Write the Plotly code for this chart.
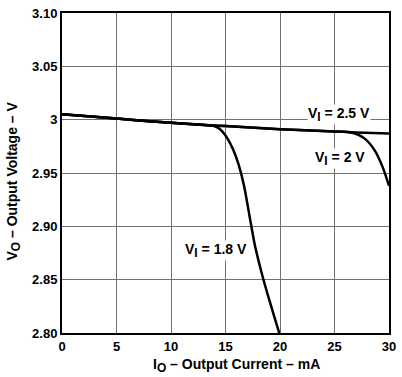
import plotly.graph_objects as go

# V_I = 2.5 V
x25 = [0, 5, 10, 13, 15, 20, 25, 27, 30]
y25 = [3.005, 3.001, 2.997, 2.995, 2.994, 2.991, 2.989, 2.988, 2.987]
# V_I = 2 V
x20 = [0, 5, 10, 13, 15, 20, 25, 26.2, 26.9, 27.8, 28.7, 29.4, 30]
y20 = [3.005, 3.001, 2.997, 2.995, 2.994, 2.991, 2.989, 2.9885, 2.987, 2.982, 2.971, 2.956, 2.938]
# V_I = 1.8 V
x18 = [0, 5, 10, 12.6, 13.6, 14.2, 14.7, 15.2, 15.7, 16.2, 16.7, 17.2, 17.7, 18.3, 18.9, 19.4, 19.93]
y18 = [3.005, 3.001, 2.997, 2.9954, 2.9947, 2.993, 2.989, 2.982, 2.972, 2.958, 2.938, 2.910, 2.882, 2.857, 2.835, 2.818, 2.800]

ytickvals = [2.80, 2.85, 2.90, 2.95, 3.00, 3.05, 3.10]
yticktext = ["2.80", "2.85", "2.90", "2.95", "3", "3.05", "3.10"]
xtickvals = [0, 5, 10, 15, 20, 25, 30]

SUB = "<sub><span style='font-size:12px'>%s</span></sub>"

labels = [("V" + SUB % "I" + " = 2.5 V", 25.4, 3.0045),
          ("V" + SUB % "I" + " = 2 V", 25.5, 2.9635),
          ("V" + SUB % "I" + " = 1.8 V", 14.1, 2.877)]

fig = go.Figure()
for xs, ys in [(x25, y25), (x20, y20), (x18, y18)]:
    fig.add_trace(go.Scatter(x=xs, y=ys, mode="lines",
                             line=dict(color="black", width=2.5, shape="spline", smoothing=0.8),
                             showlegend=False, hoverinfo="skip"))

for txt, xa, ya in labels:
    fig.add_annotation(x=xa, y=ya, text="<b>" + txt + "</b>", showarrow=False,
                       xanchor="center", yanchor="middle",
                       bgcolor="white", font=dict(size=14, color="black", family="Liberation Sans"),
                       borderpad=0)

# axis titles
fig.add_annotation(xref="paper", yref="paper", x=0.535, y=-0.101,
                   text="<b>I" + SUB % "O" + " – Output Current – mA</b>", showarrow=False,
                   xanchor="center", yanchor="middle",
                   font=dict(size=14, color="black", family="Liberation Sans"))
fig.add_annotation(xref="paper", yref="paper", x=-0.149, y=0.474, textangle=-90,
                   text="<b>V" + SUB % "O" + " – Output Voltage – V</b>", showarrow=False,
                   xanchor="center", yanchor="middle",
                   font=dict(size=14, color="black", family="Liberation Sans"))

fig.update_layout(
    width=402, height=377,
    margin=dict(l=62, r=11, t=6, b=44),
    plot_bgcolor="white", paper_bgcolor="white",
    font=dict(family="Liberation Sans", size=13, color="black"),
    xaxis=dict(range=[0, 30], tickvals=xtickvals, ticktext=["<b>%d</b>" % v for v in xtickvals],
               ticks="", ticklen=0, showgrid=True,
               gridcolor="#707070", gridwidth=1, showline=True, linecolor="black",
               linewidth=2, mirror=True, zeroline=False,
               tickfont=dict(size=13, family="Liberation Sans")),
    yaxis=dict(range=[2.80, 3.10], tickvals=ytickvals, ticktext=["<b>%s</b>" % t for t in yticktext],
               ticks="", ticklen=0, showgrid=True, gridcolor="#707070", gridwidth=1, showline=True,
               linecolor="black", linewidth=2, mirror=True, zeroline=False,
               tickfont=dict(size=13, family="Liberation Sans")),
)

fig.write_html("out.html", config={"displayModeBar": False},
               post_script="document.body.style.margin='0';document.body.style.overflow='hidden';")
